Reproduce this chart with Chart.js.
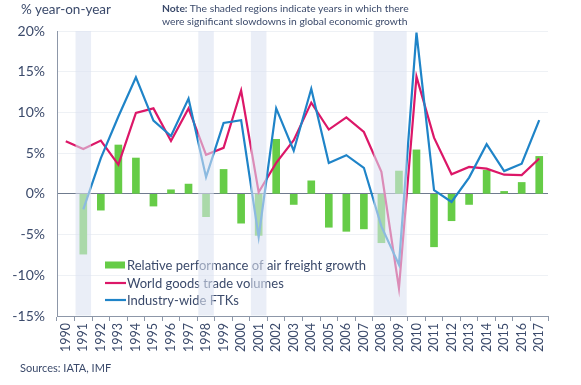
<!DOCTYPE html>
<html><head><meta charset="utf-8">
<script src="https://cdn.jsdelivr.net/npm/chart.js@4/dist/chart.umd.min.js"></script>
<style>
html,body{margin:0;padding:0;background:#fff;}
#wrap{position:relative;width:581px;height:385px;font-family:Lato,"Open Sans",sans-serif;color:#3b4a6b;overflow:hidden;}
canvas{position:absolute;left:0;top:0;}
.t{position:absolute;white-space:nowrap;}
</style></head><body>
<div id="wrap">
<canvas id="c" width="581" height="385"></canvas>
<div class="t" style="left:21px;top:1px;font-size:13.5px;">% year-on-year</div>
<div class="t" style="left:162px;top:2px;font-size:10.3px;line-height:12.5px;"><b>Note:</b> The shaded regions indicate years in which there<br>were significant slowdowns in global economic growth</div>
<div class="t" style="left:20px;top:361px;font-size:11px;">Sources: IATA, IMF</div>
</div>
<script>
const years = ['1990','1991','1992','1993','1994','1995','1996','1997','1998','1999','2000','2001','2002','2003','2004','2005','2006','2007','2008','2009','2010','2011','2012','2013','2014','2015','2016','2017'];
const relativePerformance = [null,-7.4,-2.0,6.0,4.4,-1.5,0.5,1.2,-2.8,3.0,-3.6,-5.1,6.7,-1.3,1.6,-4.1,-4.6,-4.3,-6.0,2.8,5.4,-6.5,-3.3,-1.3,2.9,0.3,1.4,4.6];
const worldTrade = [6.45,5.5,6.55,3.6,9.95,10.5,6.5,10.5,4.8,5.65,12.7,0.2,3.8,6.6,11.2,7.9,9.4,7.6,2.7,-11.6,14.4,6.9,2.4,3.3,3.1,2.35,2.3,4.35];
const industryFTKs = [null,-1.9,4.4,9.5,14.3,9.0,7.1,11.7,2.05,8.7,9.05,-5.3,10.5,5.3,12.9,3.8,4.75,3.2,-4.0,-8.7,19.8,0.45,-1.0,2.0,6.1,2.8,3.7,9.05];
const shadedYears = ['1991','1998','2001','2008','2009'];
const yTicks = [-15,-10,-5,0,5,10,15,20];

const TEXT = '#3b4a6b', GREEN = '#66cc47', PINK = '#dc1768', BLUE = '#1f84c8', AXIS = '#8d97a8';

const shadePlugin = {
  id: 'shade',
  afterDraw(chart) {
    const c = chart.ctx, xs = chart.scales.x, a = chart.chartArea;
    const step = xs.getPixelForValue(1) - xs.getPixelForValue(0);
    const idx = shadedYears.map(y => years.indexOf(y)).sort((p, q) => p - q);
    const runs = [];
    idx.forEach(i => {
      const last = runs[runs.length - 1];
      if (last && last[1] === i - 1) last[1] = i; else runs.push([i, i]);
    });
    c.save();
    c.fillStyle = 'rgba(218,226,241,0.58)';
    runs.forEach(([s, e]) => {
      const x0 = xs.getPixelForValue(s) - step / 2 + 1;
      const x1 = xs.getPixelForValue(e) + step / 2 - 1;
      c.fillRect(x0, a.top, x1 - x0, a.bottom - a.top - 0.5);
    });
    c.restore();
  }
};

const legendPlugin = {
  id: 'legendIn',
  afterDatasetsDraw(chart) {
    const c = chart.ctx;
    const x0 = 105, rows = [265, 283, 300];
    c.save();
    c.font = '13px Lato, "Open Sans", sans-serif';
    c.textBaseline = 'middle';
    chart.data.datasets.forEach((ds, i) => {
      const y = rows[i];
      if (ds.type === 'bar') {
        c.fillStyle = ds.backgroundColor;
        c.fillRect(x0, y - 3.5, 20, 7);
      } else {
        c.strokeStyle = ds.borderColor;
        c.lineWidth = 2.2;
        c.beginPath(); c.moveTo(x0, y); c.lineTo(x0 + 21, y); c.stroke();
      }
      c.fillStyle = TEXT;
      c.fillText(ds.label, x0 + 22, y + 0.5);
    });
    c.restore();
  }
};

new Chart(document.getElementById('c'), {
  data: {
    labels: years,
    datasets: [
      {type: 'bar', label: 'Relative performance of air freight growth', data: relativePerformance, backgroundColor: GREEN, barThickness: 7, order: 3},
      {type: 'line', label: 'World goods trade volumes', data: worldTrade, borderColor: PINK, borderWidth: 2.2, pointRadius: 0, tension: 0, order: 2},
      {type: 'line', label: 'Industry-wide FTKs', data: industryFTKs, borderColor: BLUE, borderWidth: 2.2, pointRadius: 0, tension: 0, order: 1}
    ]
  },
  options: {
    responsive: false,
    animation: false,
    layout: {padding: {left: 0, right: 33, top: 31, bottom: 0}},
    plugins: {legend: {display: false}, tooltip: {enabled: false}},
    scales: {
      x: {
        offset: true,
        grid: {offset: true, drawOnChartArea: false, drawTicks: true, tickLength: 5, color: AXIS},
        border: {display: true, color: AXIS},
        ticks: {color: TEXT, font: {family: 'Lato', size: 12.5}, minRotation: 90, maxRotation: 90, padding: 2, autoSkip: false},
        afterFit(s) { s.height = 69; }
      },
      y: {
        min: -15, max: 20,
        afterBuildTicks(s) { s.ticks = yTicks.map(v => ({value: v})); },
        ticks: {callback: v => v + '%', color: TEXT, font: {size: 14, family: 'Lato'}, padding: 12},
        grid: {drawTicks: false, color: c => (c.tick && c.tick.value === 0) ? '#6f7b8e' : '#eef1f5', lineWidth: 1},
        border: {display: true, color: AXIS},
        afterFit(s) { s.width = 57; }
      }
    }
  },
  plugins: [legendPlugin, shadePlugin]
});
</script>
</body></html>
